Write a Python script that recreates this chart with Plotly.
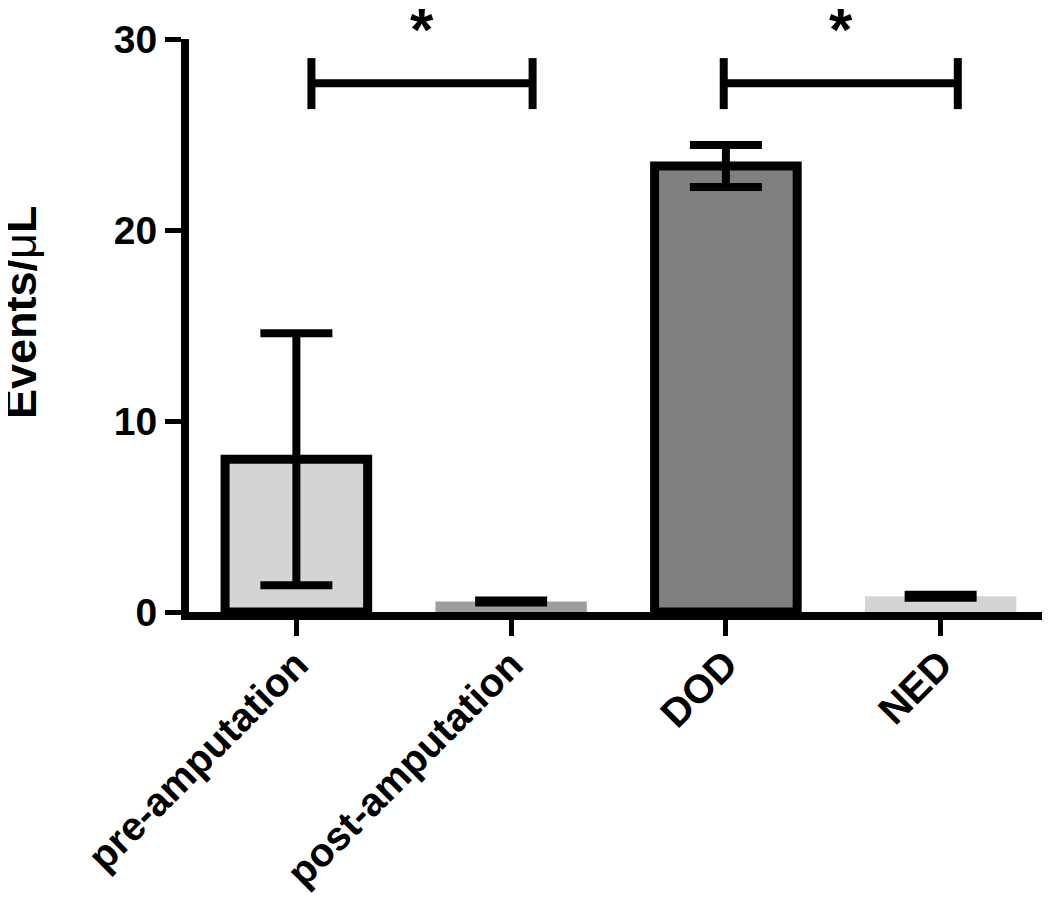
import plotly.graph_objects as go

categories = ["pre-amputation", "post-amputation", "DOD", "NED"]
means = [8.0, 0.55, 23.35, 0.82]
sem = [6.6, 0.05, 1.1, 0.08]
fill_colors = ["#d4d4d4", "#9e9e9e", "#808080", "#d4d4d4"]
outline_colors = ["black", "#9e9e9e", "black", "#d4d4d4"]
outline_widths = [9, 0, 9, 0]
bar_widths = [0.664, 0.705, 0.664, 0.705]
y_ticks = [0, 10, 20, 30]

# significance comparisons (category-index spans) and label
sig_pairs = [(0.07, 1.1), (1.99, 3.08)]
sig_level = 27.68
sig_cap_lo, sig_cap_hi = 26.33, 29.0
sig_label = "*"

FONT = "Liberation Sans"

fig = go.Figure()
fig.add_trace(go.Bar(
    x=list(range(len(categories))),
    y=means,
    width=bar_widths,
    marker=dict(color=fill_colors, line=dict(color=outline_colors, width=outline_widths)),
    error_y=dict(type="data", array=sem, visible=True, color="black", thickness=8, width=36),
    showlegend=False,
))

for (a, b) in sig_pairs:
    fig.add_shape(type="line", x0=a, x1=b, y0=sig_level, y1=sig_level,
                  xref="x", yref="y", line=dict(color="black", width=8))
    for xv in (a, b):
        fig.add_shape(type="line", x0=xv, x1=xv, y0=sig_cap_lo, y1=sig_cap_hi,
                      xref="x", yref="y", line=dict(color="black", width=8))
    fig.add_annotation(x=(a + b) / 2, y=1.0, xref="x", yref="paper", yshift=10,
                       text="<b>%s</b>" % sig_label, showarrow=False,
                       font=dict(family=FONT, size=60, color="black"),
                       yanchor="middle", borderpad=0)

fig.add_annotation(text="<b>Events/</b>μ<b>L</b>", textangle=-90, x=-0.196, y=0.523,
                   xref="paper", yref="paper", xanchor="center", yanchor="middle",
                   showarrow=False,
                   font=dict(family=FONT, size=45, color="black"))

fig.update_layout(
    width=1042, height=898,
    margin=dict(l=181, r=2, t=31, b=294),
    plot_bgcolor="white", paper_bgcolor="white",
    font=dict(family=FONT, color="black"),
)
fig.update_xaxes(
    range=[-0.5, 3.5], automargin=False,
    tickmode="array", tickvals=list(range(len(categories))),
    ticktext=["<b>%s</b>" % c for c in categories],
    tickangle=-45, tickfont=dict(family=FONT, size=40, color="black"),
    ticklabelstandoff=-11,
    showline=True, linecolor="black", linewidth=8,
    ticks="outside", ticklen=16, tickwidth=5, tickcolor="black",
    showgrid=False, zeroline=False,
)
fig.update_yaxes(
    range=[0, 30], automargin=False,
    tickmode="array", tickvals=y_ticks,
    ticktext=["<b>%d</b>" % v for v in y_ticks],
    tickfont=dict(family=FONT, size=39, color="black"),
    showline=True, linecolor="black", linewidth=8,
    ticks="outside", ticklen=16, tickwidth=5, tickcolor="black",
    showgrid=False, zeroline=False,
)

fig.write_html("out.html")
